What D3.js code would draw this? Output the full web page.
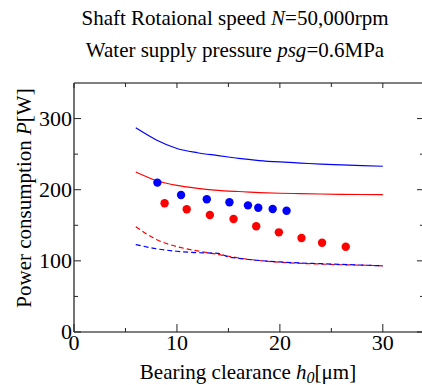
<!DOCTYPE html>
<html>
<head>
<meta charset="utf-8">
<script src="https://cdn.jsdelivr.net/npm/d3@7"></script>
<style>
  body { margin: 0; background: #fff; }
  svg { display: block; }
  text { font-family: "Liberation Serif", "Times New Roman", serif; fill: #000; }
</style>
</head>
<body>
<svg id="chart" width="422" height="385"></svg>
<script>
// calculated curves (h0 in um, P in W)
var calcX = [6, 8, 10, 12, 14, 15, 16, 18, 20, 22, 24, 26, 28, 30]
var solidBlue = [287, 270, 258, 252, 248, 246, 244, 241, 239, 237.5, 236, 235, 234, 233]
var solidRed = [225, 213, 206, 202, 199, 198, 197.5, 196, 195, 194.5, 194, 193.5, 193.3, 193]
var dashRed = [148, 130, 120, 114, 109, 106.5, 104, 100.5, 98, 96.5, 95.5, 94.5, 94, 93]
var dashBlue = [123, 117, 113.5, 111.5, 110.5, 105.5, 103.5, 100.5, 98.5, 97, 96, 95, 94, 93]

// measured points
var blueX = [8.1, 10.4, 12.9, 15.1, 16.9, 17.9, 19.3, 20.65]
var blueY = [210, 192.5, 186.5, 182.3, 178, 174.7, 172.9, 170.5]
var redX = [8.8, 10.95, 13.2, 15.5, 17.7, 19.9, 22.1, 24.1, 26.4]
var redY = [181, 172.5, 164.5, 158.8, 148.6, 140.1, 132.1, 125.5, 119.9]

var xMajor = [0, 10, 20, 30]
var xMinor = [5, 15, 25]
var yMajor = [0, 100, 200, 300]
var yMinor = [50, 150, 250]

var svg = d3.select('#chart')
var x = d3.scaleLinear().domain([0, 34]).range([74, 424])
var y = d3.scaleLinear().domain([0, 350]).range([332, 83])

// titles
var title = svg.append('text').attr('x', 235).attr('y', 25)
    .attr('text-anchor', 'middle').style('font-size', '21px')
title.append('tspan').text('Shaft Rotaional speed ')
title.append('tspan').style('font-style', 'italic').text('N')
title.append('tspan').text('=50,000rpm')

var title2 = svg.append('text').attr('x', 235).attr('y', 57)
    .attr('text-anchor', 'middle').style('font-size', '21px')
title2.append('tspan').text('Water supply pressure ')
title2.append('tspan').style('font-style', 'italic').text('psg')
title2.append('tspan').text('=0.6MPa')

// frame
svg.append('line').attr('x1', x(0)).attr('x2', x(34)).attr('y1', y(350)).attr('y2', y(350))
    .attr('stroke', '#555').attr('stroke-width', 1.5)
svg.append('line').attr('x1', x(0)).attr('x2', x(0)).attr('y1', y(0)).attr('y2', y(350))
    .attr('stroke', '#444').attr('stroke-width', 1.5)
svg.append('line').attr('x1', x(34)).attr('x2', x(34)).attr('y1', y(0)).attr('y2', y(350))
    .attr('stroke', '#444').attr('stroke-width', 1.5)
svg.append('line').attr('x1', x(0)).attr('x2', x(34)).attr('y1', y(0)).attr('y2', y(0))
    .attr('stroke', '#000').attr('stroke-width', 1.2)

function tick(x1, y1, x2, y2) {
    svg.append('line').attr('x1', x1).attr('y1', y1).attr('x2', x2).attr('y2', y2)
        .attr('stroke', '#222').attr('stroke-width', 1)
}
xMajor.forEach(function (v) {
    tick(x(v), y(0), x(v), y(0) - 8)
    tick(x(v), y(350), x(v), y(350) + 5)
})
xMinor.forEach(function (v) {
    tick(x(v), y(0), x(v), y(0) - 4)
    tick(x(v), y(350), x(v), y(350) + 4)
})
yMajor.forEach(function (v) {
    tick(x(0), y(v), x(0) + 7, y(v))
    tick(x(34), y(v), x(34) - 7, y(v))
})
yMinor.forEach(function (v) {
    tick(x(0), y(v), x(0) + 4, y(v))
    tick(x(34), y(v), x(34) - 4, y(v))
})

// tick labels
svg.selectAll('.xlab').data(xMajor).enter().append('text')
    .attr('class', 'xlab')
    .attr('x', function (d) { return x(d) }).attr('y', 350)
    .attr('text-anchor', 'middle').style('font-size', '22px')
    .text(function (d) { return d })
svg.selectAll('.ylab').data(yMajor).enter().append('text')
    .attr('class', 'ylab')
    .attr('x', 72).attr('y', function (d) { return y(d) + 7 })
    .attr('text-anchor', 'end').style('font-size', '22px')
    .text(function (d) { return d })

// axis titles
var xt = svg.append('text').attr('x', 248).attr('y', 379)
    .attr('text-anchor', 'middle').style('font-size', '21px')
xt.append('tspan').text('Bearing clearance ')
xt.append('tspan').style('font-style', 'italic').text('h')
xt.append('tspan').style('font-style', 'italic').style('font-size', '16px').attr('dy', 4).text('0')
xt.append('tspan').attr('dy', -4).text('[\u03bcm]')

var yt = svg.append('text').attr('transform', 'translate(31,198) rotate(-90)')
    .attr('text-anchor', 'middle').style('font-size', '21px')
yt.append('tspan').text('Power consumption ')
yt.append('tspan').style('font-style', 'italic').text('P')
yt.append('tspan').text('[W]')

// curves
var line = d3.line()
    .x(function (d) { return x(d[0]) })
    .y(function (d) { return y(d[1]) })
    .curve(d3.curveMonotoneX)
function curve(vals, color, dashed) {
    svg.append('path')
        .attr('d', line(calcX.map(function (v, i) { return [v, vals[i]] })))
        .attr('fill', 'none').attr('stroke', color).attr('stroke-width', 1.2)
        .attr('stroke-dasharray', dashed ? '5,3' : null)
}
curve(solidBlue, '#0000ff', false)
curve(solidRed, '#ff0000', false)
curve(dashRed, '#ff0000', true)
curve(dashBlue, '#0000ff', true)

// measured dots
svg.selectAll('.bdot').data(blueX).enter().append('circle')
    .attr('class', 'bdot')
    .attr('cx', function (d) { return x(d) })
    .attr('cy', function (d, i) { return y(blueY[i]) })
    .attr('r', 4.2).attr('fill', '#0000ff')
svg.selectAll('.rdot').data(redX).enter().append('circle')
    .attr('class', 'rdot')
    .attr('cx', function (d) { return x(d) })
    .attr('cy', function (d, i) { return y(redY[i]) })
    .attr('r', 4.2).attr('fill', '#ff0000')
</script>
</body>
</html>
